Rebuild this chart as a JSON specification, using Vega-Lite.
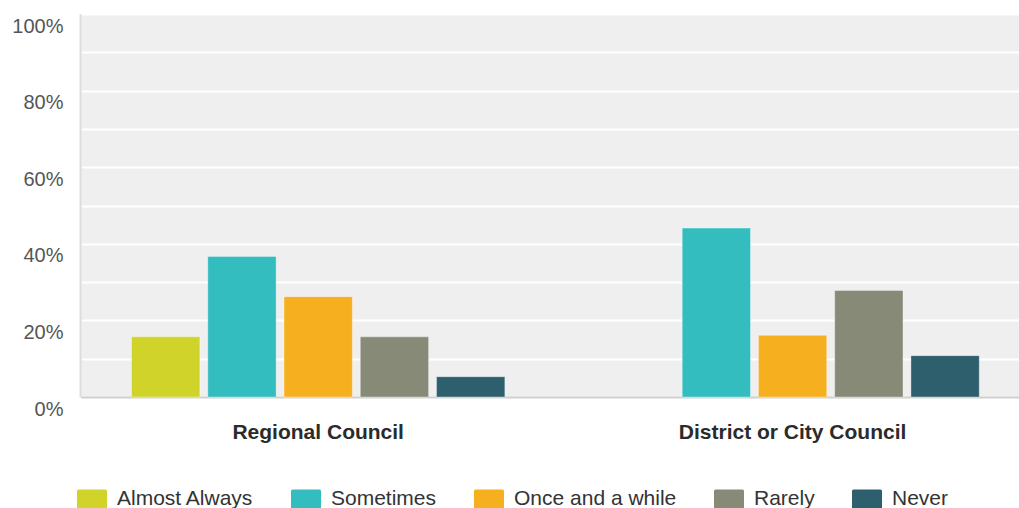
{
  "$schema": "https://vega.github.io/schema/vega-lite/v6.json",
  "width": 939,
  "height": 383,
  "autosize": {"type": "none"},
  "padding": {"left": 80, "top": 14, "right": 0, "bottom": 111},
  "background": "#FFFFFF",
  "config": {
    "font": "Liberation Sans",
    "view": {"fill": "#EFEFEF", "stroke": null}
  },
  "data": {
    "values": [
      {"council": "Regional Council", "response": "Almost Always", "pct": 15.7},
      {"council": "Regional Council", "response": "Sometimes", "pct": 36.7},
      {"council": "Regional Council", "response": "Once and a while", "pct": 26.2},
      {"council": "Regional Council", "response": "Rarely", "pct": 15.7},
      {"council": "Regional Council", "response": "Never", "pct": 5.3},
      {"council": "District or City Council", "response": "Sometimes", "pct": 44.1},
      {"council": "District or City Council", "response": "Once and a while", "pct": 16.1},
      {"council": "District or City Council", "response": "Rarely", "pct": 27.8},
      {"council": "District or City Council", "response": "Never", "pct": 10.8}
    ]
  },
  "mark": {"type": "bar", "stroke": "#FFFFFF", "strokeOpacity": 0.35, "strokeWidth": 1},
  "encoding": {
    "x": {
      "field": "council",
      "type": "nominal",
      "sort": ["Regional Council", "District or City Council"],
      "scale": {"range": [1, 949.8], "paddingInner": 0, "paddingOuter": 0},
      "axis": {
        "title": null,
        "labelAngle": 0,
        "labelFontSize": 21,
        "labelFontWeight": "bold",
        "labelColor": "#2B2B2B",
        "labelPadding": 24,
        "labelLimit": 400,
        "ticks": false,
        "tickSize": 0,
        "grid": false,
        "domainColor": "#D0D0D0",
        "domainWidth": 2
      }
    },
    "xOffset": {
      "field": "response",
      "type": "nominal",
      "sort": ["Almost Always", "Sometimes", "Once and a while", "Rarely", "Never"],
      "scale": {
        "domain": ["Almost Always", "Sometimes", "Once and a while", "Rarely", "Never"],
        "paddingInner": 0.104,
        "paddingOuter": 0.663
      }
    },
    "y": {
      "field": "pct",
      "type": "quantitative",
      "scale": {"domain": [0, 100], "nice": false},
      "axis": {
        "title": null,
        "values": [0, 10, 20, 30, 40, 50, 60, 70, 80, 90, 100],
        "labelExpr": "datum.value % 20 === 0 ? datum.value + '%' : ''",
        "labelFontSize": 20,
        "labelColor": "#555555",
        "labelPadding": 17,
        "labelBaseline": "top",
        "labelOffset": 2,
        "labelFlush": false,
        "labelOverlap": false,
        "ticks": false,
        "tickSize": 0,
        "gridColor": "#FFFFFF",
        "gridWidth": 2,
        "domainColor": "#DDDDDD",
        "domainWidth": 2
      }
    },
    "color": {
      "field": "response",
      "type": "nominal",
      "sort": ["Almost Always", "Sometimes", "Once and a while", "Rarely", "Never"],
      "scale": {
        "domain": ["Almost Always", "Sometimes", "Once and a while", "Rarely", "Never"],
        "range": ["#CFD32A", "#33BDBF", "#F6AF1F", "#888A78", "#2E5F6D"]
      },
      "legend": {
        "title": null,
        "orient": "none",
        "direction": "horizontal",
        "legendX": -3,
        "legendY": 470,
        "padding": 0,
        "symbolType": "M-0.9,-0.667H0.9Q1,-0.667 1,-0.567V0.567Q1,0.667 0.9,0.667H-0.9Q-1,0.667 -1,0.567V-0.567Q-1,-0.667 -0.9,-0.667Z",
        "symbolSize": 900,
        "symbolStrokeWidth": 0,
        "symbolOpacity": 1,
        "labelFontSize": 21,
        "labelColor": "#333333",
        "labelOffset": 10,
        "columnPadding": 37,
        "labelLimit": 300
      }
    }
  }
}
